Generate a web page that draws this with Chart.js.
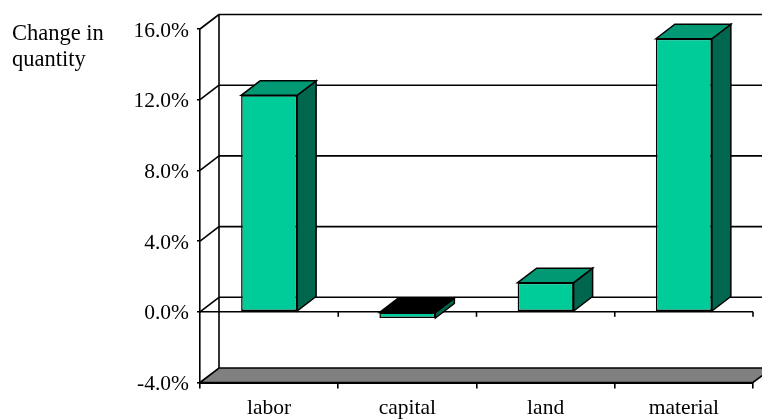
<!DOCTYPE html>
<html>
<head>
<meta charset="utf-8">
<title>Change in quantity</title>
<script src="https://cdn.jsdelivr.net/npm/chart.js@4/dist/chart.umd.min.js"></script>
<style>
  html, body { margin: 0; padding: 0; background: #fff; }
  #wrap { position: relative; width: 762px; height: 420px; overflow: hidden; }
  canvas { display: block; }
  #yTitle {
    position: absolute;
    left: 12px;
    top: 20px;
    font: 22.5px/26px "Liberation Serif", serif;
    color: #000;
  }
</style>
</head>
<body>
<div id="wrap">
  <canvas id="chart" width="762" height="420"></canvas>
  <div id="yTitle">Change in<br>quantity</div>
</div>
<script>
const categories = ['labor', 'capital', 'land', 'material'];
const quantityChange = [12.25, -0.35, 1.65, 15.45];
const yMin = -4;
const yMax = 16;
const yStep = 4;

const DEPTH_X = 19;
const DEPTH_Y = 14.5;
const FONT = '"Liberation Serif", serif';

function poly(ctx, points, fill) {
  ctx.beginPath();
  points.forEach(([x, y], i) => (i ? ctx.lineTo(x, y) : ctx.moveTo(x, y)));
  ctx.closePath();
  if (fill) {
    ctx.fillStyle = fill;
    ctx.fill();
  }
  ctx.stroke();
}

function line(ctx, x1, y1, x2, y2) {
  ctx.beginPath();
  ctx.moveTo(x1, y1);
  ctx.lineTo(x2, y2);
  ctx.stroke();
}

// back wall, floor, diagonals and the zero line
const wallsPlugin = {
  id: 'walls',
  beforeDatasetsDraw(chart) {
    const { ctx, chartArea, scales } = chart;
    const { left, right, bottom } = chartArea;
    const y = scales.y;
    ctx.save();
    ctx.strokeStyle = '#000';
    ctx.lineWidth = 1.6;

    poly(ctx, [
      [left, bottom],
      [left + DEPTH_X, bottom - DEPTH_Y],
      [right + DEPTH_X, bottom - DEPTH_Y],
      [right, bottom]
    ], '#808080');

    line(ctx, left + DEPTH_X, y.getPixelForValue(yMax) - DEPTH_Y, left + DEPTH_X, bottom - DEPTH_Y);

    y.ticks.forEach((tick) => {
      if (tick.value === yMin) return;
      const py = y.getPixelForValue(tick.value);
      line(ctx, left, py, left + DEPTH_X, py - DEPTH_Y);
      line(ctx, left + DEPTH_X, py - DEPTH_Y, right + DEPTH_X, py - DEPTH_Y);
    });

    const zero = y.getPixelForValue(0);
    line(ctx, left, zero, right, zero);
    const step = (right - left) / categories.length;
    categories.forEach((_, i) => {
      const px = left + step * (i + 1);
      line(ctx, px, zero, px, zero + 5);
    });
    ctx.restore();
  },
  // side and top faces of the bars
  afterDatasetsDraw(chart) {
    const { ctx } = chart;
    ctx.save();
    ctx.strokeStyle = '#000';
    ctx.lineWidth = 1.5;
    chart.getDatasetMeta(0).data.forEach((bar, i) => {
      const half = bar.width / 2;
      const l = bar.x - half;
      const r = bar.x + half;
      const top = Math.min(bar.y, bar.base);
      const bot = Math.max(bar.y, bar.base);
      poly(ctx, [
        [r, top],
        [r + DEPTH_X, top - DEPTH_Y],
        [r + DEPTH_X, bot - DEPTH_Y],
        [r, bot]
      ], '#00664d');
      poly(ctx, [
        [l, top],
        [l + DEPTH_X, top - DEPTH_Y],
        [r + DEPTH_X, top - DEPTH_Y],
        [r, top]
      ], quantityChange[i] < 0 ? '#000' : '#009973');
    });
    ctx.restore();
  }
};

new Chart(document.getElementById('chart'), {
  type: 'bar',
  data: {
    labels: categories,
    datasets: [
      {
        label: 'Change in quantity',
        data: quantityChange,
        backgroundColor: '#00cc99',
        borderColor: '#000',
        borderWidth: 1.5,
        borderSkipped: false,
        barPercentage: 0.405,
        categoryPercentage: 1
      }
    ]
  },
  options: {
    responsive: false,
    animation: false,
    layout: { padding: { top: 29, right: 9, left: 0, bottom: 0 } },
    plugins: {
      legend: { display: false },
      tooltip: { enabled: false }
    },
    scales: {
      x: {
        offset: true,
        afterFit(scale) {
          scale.height = 37.5;
        },
        grid: {
          drawOnChartArea: false,
          offset: true,
          color: '#000',
          lineWidth: 1.6,
          tickLength: 6
        },
        border: { color: '#000', width: 2 },
        ticks: {
          color: '#000',
          padding: 7,
          maxRotation: 0,
          font: { family: FONT, size: 21.5 }
        }
      },
      y: {
        min: yMin,
        max: yMax,
        afterFit(scale) {
          scale.width = 200;
        },
        grid: {
          drawOnChartArea: false,
          color: '#000',
          lineWidth: 1.6,
          tickLength: 3
        },
        border: { color: '#000', width: 1.6 },
        ticks: {
          stepSize: yStep,
          color: '#000',
          padding: 8,
          labelOffset: 2,
          font: { family: FONT, size: 21.5 },
          callback: (value) => `${value.toFixed(1)}%`
        }
      }
    }
  },
  plugins: [wallsPlugin]
});
</script>
</body>
</html>
